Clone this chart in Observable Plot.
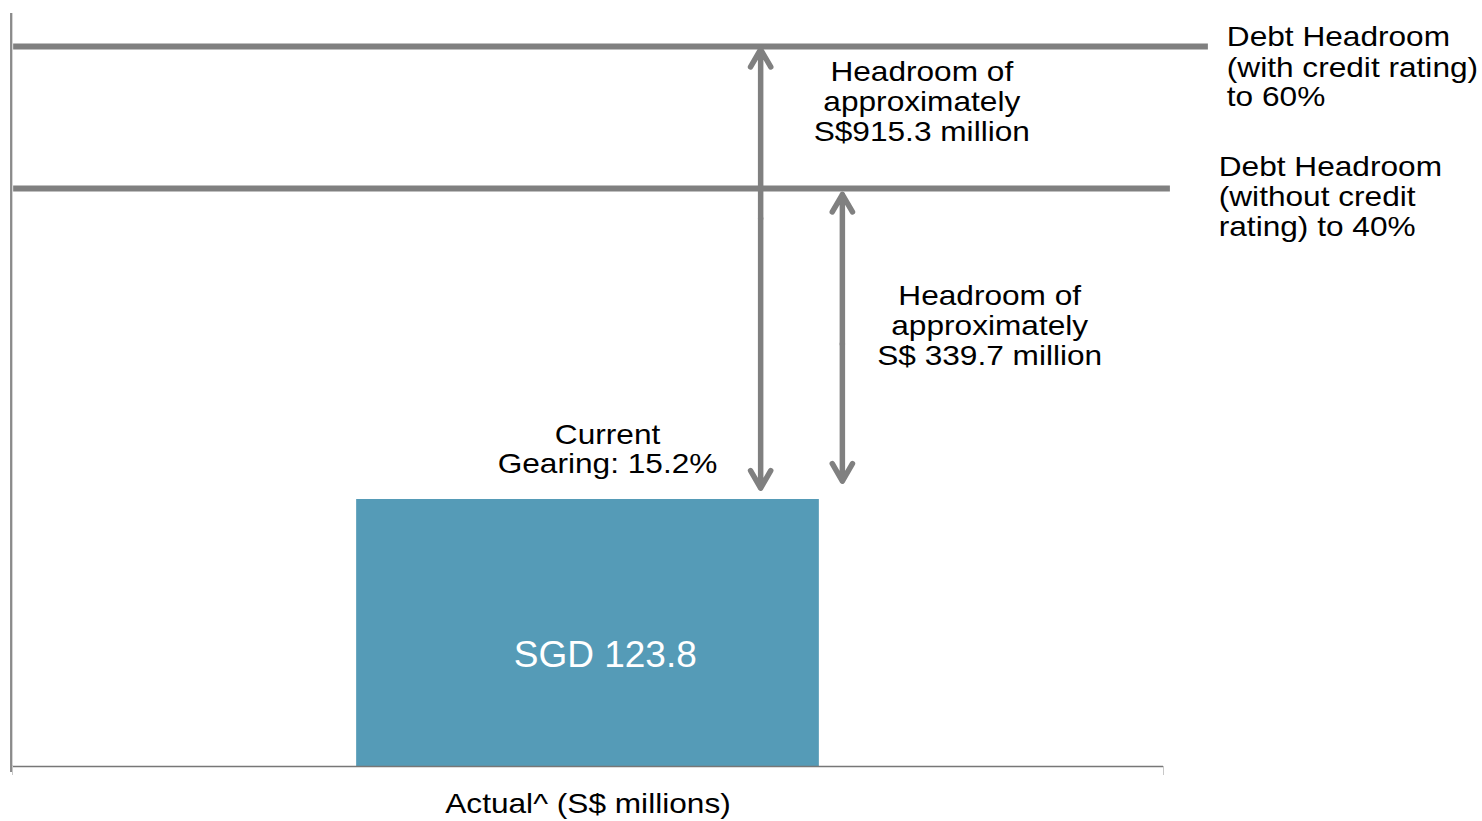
<!DOCTYPE html>
<html><head><meta charset="utf-8">
<script src="https://cdn.jsdelivr.net/npm/d3@7"></script>
<script src="https://cdn.jsdelivr.net/npm/@observablehq/plot@0.6"></script>
<style>html,body{margin:0;padding:0;background:#fff;}</style>
</head><body><div id="chart"></div>
<script>
// ---- data ----
const categories = ["Actual^ (S$ millions)"];
const debtValues = [123.8];           // SGD millions (bar label)
const gearingPct = [15.2];            // current gearing, %
const limitPct = [60, 40];            // debt headroom limits, %
const limitLabels = [
  "Debt Headroom\n(with credit rating)\nto 60%",
  "Debt Headroom\n(without credit\nrating) to 40%"
];
const headroomValues = [915.3, 339.7]; // S$ millions
const headroomLabels = [
  "Headroom of\napproximately\nS$915.3 million",
  "Headroom of\napproximately\nS$ 339.7 million"
];

// ---- layout (annotation placement, not data) ----
const barSpan = [29.9, 70.1];
const limitLineEnd = [103.9, 100.6];
const limitLabelPos = [{x: 105.5, y: 51.55}, {x: 104.8, y: 36.25}];
const arrowX = [65, 72.1];
const arrowInsetTop = [3, 6];
const arrowInsetBottom = [11.5, 18.5];
const headroomLabelPos = [{x: 79, y: 46.7}, {x: 84.9, y: 25.9}];
const gearingLabelPos = {x: 51.7, y: 17.3};
const valueLabelPos = {x: 51.5, y: 5.65};

const GREY = "#808080";
const BAR = "#559bb7";
const FS = 28, STRETCH = 1.13, LH = 30 / 28;

const rows = categories.map((c, i) => ({category: c, debt: debtValues[i], gearing: gearingPct[i]}));
const limits = limitPct.map((p, i) => ({pct: p, label: limitLabels[i], end: limitLineEnd[i], lx: limitLabelPos[i].x, ly: limitLabelPos[i].y}));
const arrows = headroomValues.map((v, i) => ({value: v, label: headroomLabels[i], x: arrowX[i], top: limitPct[i], bottom: gearingPct[0], lx: headroomLabelPos[i].x, ly: headroomLabelPos[i].y}));

const arrowMarks = arrows.flatMap((a, i) => {
  const common = {x: "x", stroke: GREY, strokeWidth: 5.5, headLength: 5.5, strokeLinecap: "round", strokeLinejoin: "round"};
  return [
    Plot.arrow([a], {...common, y1: d => (d.top + d.bottom) / 2, y2: "top", insetEnd: arrowInsetTop[i]}),
    Plot.arrow([a], {...common, y1: d => (d.top + d.bottom) / 2, y2: "bottom", insetEnd: arrowInsetBottom[i]})
  ];
});

const chart = Plot.plot({
  width: 1482,
  height: 821,
  marginLeft: 12,
  marginRight: 319,
  marginTop: 13,
  marginBottom: 55,
  style: {fontFamily: "'Liberation Sans', Arial, sans-serif", background: "white", color: "black"},
  x: {type: "linear", domain: [0, 100]},
  y: {type: "linear", domain: [0, 15.2, 40, 60], range: [766, 499, 188, 46], axis: null},
  marks: [
    Plot.rectY(rows, {x1: barSpan[0], x2: barSpan[1], y1: 0, y2: "gearing", fill: BAR}),
    Plot.ruleY([0], {stroke: "#777", strokeWidth: 1.3}),
    Plot.ruleX([0], {stroke: "#8a8a8a", strokeWidth: 2.3, dx: -1.3, insetBottom: -6}),
    Plot.axisX({ticks: [0, 100], tickFormat: () => "", tickSize: 9, stroke: "#c8c8c8"}),
    Plot.axisX({ticks: [50], tickFormat: () => categories[0], tickSize: 0, tickPadding: 27, fontSize: 28, fill: "black"}),
    Plot.ruleY(limits, {y: "pct", x1: 0.1, x2: "end", stroke: GREY, strokeWidth: 6}),
    ...arrowMarks,
    Plot.text(limits, {x: "lx", y: "ly", text: "label", textAnchor: "start", lineAnchor: "bottom", lineHeight: LH, fontSize: FS, fill: "black", ariaDescription: "stretch"}),
    Plot.text(arrows, {x: "lx", y: "ly", text: "label", textAnchor: "middle", lineAnchor: "bottom", lineHeight: LH, fontSize: FS, fill: "black", ariaDescription: "stretch"}),
    Plot.text(rows, {x: gearingLabelPos.x, y: gearingLabelPos.y, text: d => `Current\nGearing: ${d.gearing}%`, textAnchor: "middle", lineAnchor: "bottom", lineHeight: 29 / 28, fontSize: FS, fill: "black", ariaDescription: "stretch"}),
    Plot.text(rows, {x: valueLabelPos.x, y: valueLabelPos.y, text: d => `SGD ${d.debt}`, textAnchor: "middle", lineAnchor: "bottom", fontSize: 37, fill: "white"})
  ]
});
document.getElementById("chart").appendChild(chart);

// Horizontally stretched text boxes, as in the original slide
chart.querySelectorAll("g[aria-description='stretch'] text").forEach(el => {
  const t = el.getAttribute("transform") || "";
  el.setAttribute("transform", t + ` scale(${STRETCH},1)`);
});
chart.querySelectorAll("g[aria-label='x-axis tick label'] text").forEach(el => {
  const t = el.getAttribute("transform") || "";
  el.setAttribute("transform", t + " scale(1.13,1)");
});
</script>
</body></html>
